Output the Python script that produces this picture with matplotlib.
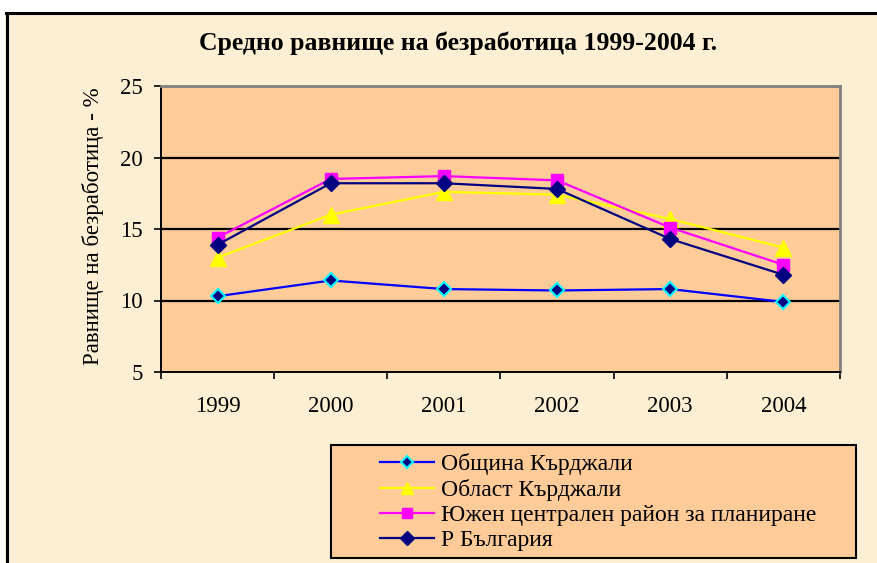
import matplotlib.pyplot as plt
from matplotlib.patches import Rectangle
from matplotlib.lines import Line2D

years = ['1999', '2000', '2001', '2002', '2003', '2004']
obshtina = [10.3, 11.4, 10.8, 10.7, 10.8, 9.9]
oblast = [13.0, 16.0, 17.6, 17.4, 15.7, 13.7]
yuzhen = [14.4, 18.5, 18.7, 18.4, 15.1, 12.5]
bulgaria = [13.9, 18.2, 18.2, 17.8, 14.3, 11.8]
labels = ['Община Кърджали', 'Област Кърджали',
          'Южен централен район за планиране', 'Р България']

plt.rcParams['font.family'] = ['Liberation Serif', 'DejaVu Serif']

W, H = 878, 563
fig = plt.figure(figsize=(W / 100, H / 100), dpi=100)
fig.patch.set_facecolor('#fcefd3')

# white strip on top and black frame lines
fig.add_artist(Rectangle((0, 1 - 12 / H), 1, 12 / H, transform=fig.transFigure,
                         facecolor='white', edgecolor='none'))
fig.add_artist(Rectangle((0, 0), 5 / W, 1, transform=fig.transFigure,
                         facecolor='white', edgecolor='none'))
fig.add_artist(Line2D([6 / W, 1], [1 - 13 / H, 1 - 13 / H], transform=fig.transFigure,
                      color='black', lw=2.2))
fig.add_artist(Line2D([7 / W, 7 / W], [0, 1 - 13 / H], transform=fig.transFigure,
                      color='black', lw=2.2))

ax = fig.add_axes([161 / W, 1 - 372 / H, (840 - 161) / W, (372 - 86) / H])
ax.set_facecolor('#ffcc99')

x = list(range(len(years)))
ax.plot(x, obshtina, color='#0000ff', lw=1.6, marker='D', ms=7,
        mfc='#000080', mec='#00ffff', mew=1.5, label=labels[0], zorder=5)
ax.plot(x, oblast, color='#ffff00', lw=1.6, marker='^', ms=11,
        mfc='#ffff00', mec='#ffff00', label=labels[1], zorder=4)
ax.plot(x, yuzhen, color='#ff00ff', lw=1.6, marker='s', ms=9,
        mfc='#ff00ff', mec='#ff00ff', label=labels[2], zorder=4)
ax.plot(x, bulgaria, color='#000080', lw=1.6, marker='D', ms=8,
        mfc='#000080', mec='#000080', label=labels[3], zorder=5)

ax.set_xlim(-0.5, 5.5)
ax.set_ylim(5, 25)
ax.set_yticks([5, 10, 15, 20, 25])
ax.set_xticks([i - 0.5 for i in range(7)])
ax.set_xticklabels([])
ax.set_xticks(x, minor=True)
ax.set_xticklabels(years, minor=True)
ax.tick_params(axis='x', which='major', direction='out', length=5, width=1.2)
ax.tick_params(axis='x', which='minor', length=0, pad=17, labelsize=16.5)
ax.tick_params(axis='y', direction='out', length=5, width=1.2, pad=8, labelsize=16.5)

for v in [10, 15, 20]:
    ax.axhline(v, color='black', lw=1.6, zorder=1)

ax.spines['left'].set_color('black')
ax.spines['bottom'].set_color('black')
ax.spines['left'].set_linewidth(1.4)
ax.spines['bottom'].set_linewidth(1.4)
ax.spines['top'].set_color('#808080')
ax.spines['right'].set_color('#808080')
ax.spines['top'].set_linewidth(2)
ax.spines['right'].set_linewidth(2)

fig.text(458 / W, 1 - 43 / H, 'Средно равнище на безработица 1999-2004 г.',
         ha='center', va='center', fontsize=18.5, fontweight='bold')
fig.text(93 / W, 1 - 226 / H, 'Равнище на безработица - %', rotation=90,
         ha='center', va='center', fontsize=16.5)

# legend box
fig.add_artist(Rectangle((331 / W, 1 - 558 / H), 525 / W, 113 / H,
                         transform=fig.transFigure, facecolor='#ffcc99',
                         edgecolor='black', lw=1.5))
handles, lbls = ax.get_legend_handles_labels()
fig.legend(handles, lbls, loc='upper left', bbox_to_anchor=(380 / W, 1 - 453 / H),
           frameon=False, fontsize=17, handlelength=2.3, handletextpad=0.3,
           labelspacing=0.16, borderpad=0, borderaxespad=0, markerscale=0.85)

fig.savefig('out.png', dpi=100, facecolor=fig.get_facecolor())
